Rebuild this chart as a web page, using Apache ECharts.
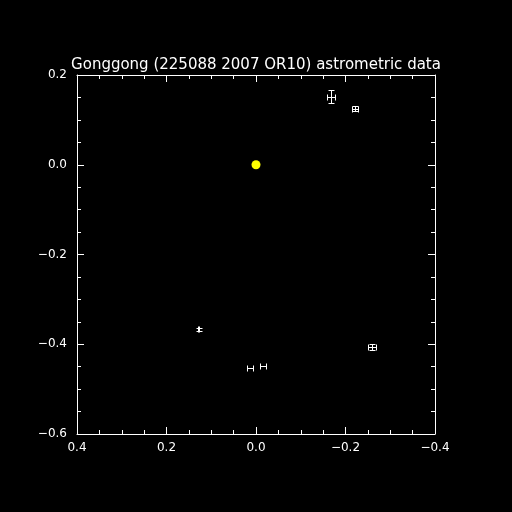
<!DOCTYPE html>
<html><head><meta charset="utf-8">
<script src="https://cdn.jsdelivr.net/npm/echarts@6/dist/echarts.min.js"></script>
<style>html,body{margin:0;padding:0;background:#000;}#c{width:512px;height:512px;}</style>
</head><body><div id="c"></div>
<script>
const titleText = "Gonggong (225088 2007 OR10) astrometric data";
const ptX   = [-0.168, -0.222, 0.128, 0.0127, -0.016, -0.259];
const ptY   = [0.1516, 0.1247, -0.3665, -0.452, -0.449, -0.406];
const ptXErr= [0.009, 0.0067, 0.0005, 0.0067, 0.0067, 0.009];
const ptYErr= [0.0145, 0.0056, 0.0035, 0.0, 0.0, 0.0067];
const primary = [[0, 0]];
const xMin = -0.4, xMax = 0.4, yMin = -0.6, yMax = 0.2, tickStep = 0.2;

const fmt = v => { const s = (Math.abs(v) < 1e-9 ? 0 : v).toFixed(1); return s.replace('-', '\u2212'); };
const axisCommon = {
  interval: tickStep,
  axisLine: {show: true, onZero: false, lineStyle: {color: '#fff', width: 1}},
  axisTick: {show: true, inside: true, length: 7, lineStyle: {color: '#fff'}},
  minorTick: {show: true, splitNumber: 4, length: 4, lineStyle: {color: '#fff'}},
  splitLine: {show: false},
  minorSplitLine: {show: false}
};
const labelStyle = {color: '#fff', fontFamily: 'DejaVu Sans', fontSize: 12, formatter: fmt};

const data = ptX.map((x, i) => [x, ptY[i], ptXErr[i], ptYErr[i]]);

const px = v => Math.round(v) + 0.5;
function renderErr(params, api) {
  const x = api.value(0), y = api.value(1), ex = api.value(2), ey = api.value(3);
  const cap = 3;
  const children = [];
  const st = {stroke: '#fff', lineWidth: 1};
  const L = (x1, y1, x2, y2) => children.push({type: 'line', shape: {x1: px(x1), y1: px(y1), x2: px(x2), y2: px(y2)}, style: st});
  if (ex > 0) {
    const a = api.coord([x - ex, y]), b = api.coord([x + ex, y]);
    L(a[0], a[1], b[0], b[1]);
    L(a[0], a[1] - cap, a[0], a[1] + cap);
    L(b[0], b[1] - cap, b[0], b[1] + cap);
  }
  if (ey > 0) {
    const a = api.coord([x, y - ey]), b = api.coord([x, y + ey]);
    L(a[0], a[1], b[0], b[1]);
    L(a[0] - cap, a[1], a[0] + cap, a[1]);
    L(b[0] - cap, b[1], b[0] + cap, b[1]);
  }
  return {type: 'group', children};
}

const chart = echarts.init(document.getElementById('c'), null, {renderer: 'canvas'});
chart.setOption({
  backgroundColor: '#000',
  animation: false,
  title: {text: titleText, left: 'center', top: 53, textStyle: {color: '#fff', fontFamily: 'DejaVu Sans', fontWeight: 'normal', fontSize: 15}},
  grid: {left: 77, right: 77, top: 75, bottom: 78},
  xAxis: [
    Object.assign({type: 'value', min: xMin, max: xMax, inverse: true, position: 'bottom',
      axisLabel: Object.assign({margin: 8}, labelStyle)}, axisCommon),
    Object.assign({type: 'value', min: xMin, max: xMax, inverse: true, position: 'top',
      axisLabel: {show: false}}, axisCommon)
  ],
  yAxis: [
    Object.assign({type: 'value', min: yMin, max: yMax, position: 'left',
      axisLabel: Object.assign({margin: 10}, labelStyle)}, axisCommon),
    Object.assign({type: 'value', min: yMin, max: yMax, position: 'right',
      axisLabel: {show: false}}, axisCommon)
  ],
  series: [
    {type: 'custom', renderItem: renderErr, data: data, encode: {x: 0, y: 1}, z: 5},
    {type: 'scatter', data: primary, symbol: 'circle', symbolSize: 9, itemStyle: {color: '#ffff00', opacity: 1}, z: 6}
  ]
});
</script></body></html>
